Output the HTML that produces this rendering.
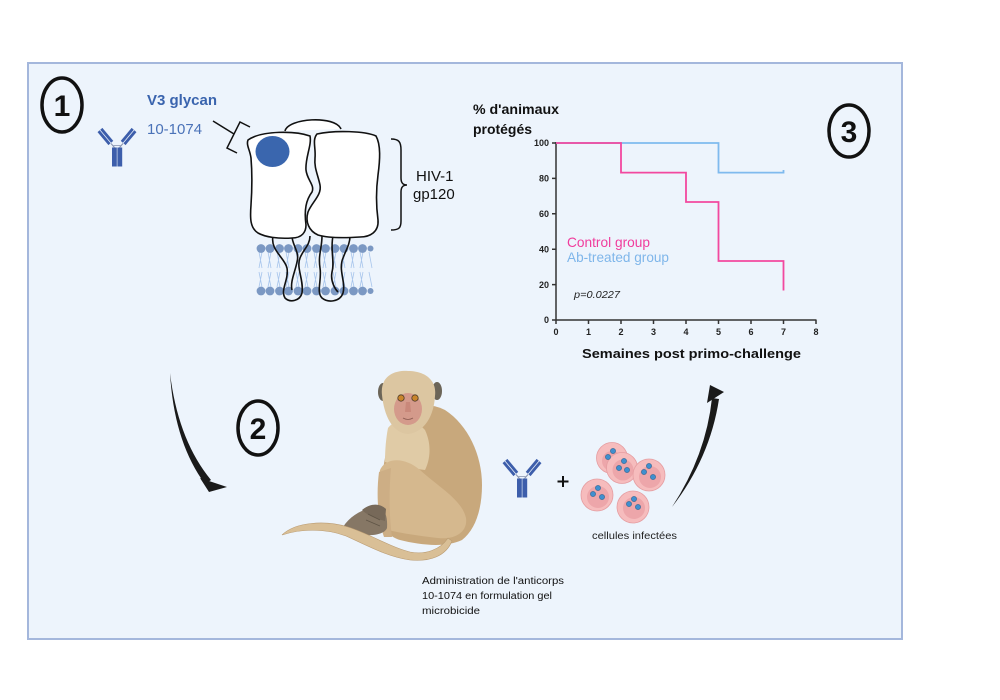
<!DOCTYPE html>
<html><head><meta charset="utf-8"><style>
html,body{margin:0;padding:0;background:#fff;}
svg{display:block;}
text{font-family:"Liberation Sans",sans-serif;}
</style></head><body>
<svg width="1000" height="700" viewBox="0 0 1000 700" xmlns="http://www.w3.org/2000/svg">
<defs>
<g id="ab">
  <line x1="4.3" y1="1.8" x2="15.2" y2="14.8" stroke="#3d5eab" stroke-width="2.8"/>
  <line x1="1.6" y1="4.2" x2="12.5" y2="17.2" stroke="#3d5eab" stroke-width="2.8"/>
  <line x1="35.7" y1="1.8" x2="24.8" y2="14.8" stroke="#3d5eab" stroke-width="2.8"/>
  <line x1="38.4" y1="4.2" x2="27.5" y2="17.2" stroke="#3d5eab" stroke-width="2.8"/>
  <line x1="14" y1="16.5" x2="17.5" y2="20.5" stroke="#8a95b0" stroke-width="1"/>
  <line x1="26" y1="16.5" x2="22.5" y2="20.5" stroke="#8a95b0" stroke-width="1"/>
  <line x1="16.5" y1="18.5" x2="23.5" y2="18.5" stroke="#8a95b0" stroke-width="0.8"/>
  <rect x="15" y="20.5" width="4.8" height="19" fill="#3d5eab"/>
  <rect x="20.4" y="20.5" width="4.8" height="19" fill="#3d5eab"/>
</g>
<g id="vir" fill="#3f8fcf" stroke="#35648f" stroke-width="0.6">
  <circle r="2.6"/>
</g>
</defs>

<!-- frame -->
<rect x="28" y="63" width="874" height="576" fill="#edf4fc" stroke="#a4b7dc" stroke-width="2"/>

<!-- numbers -->
<ellipse cx="62" cy="105" rx="20" ry="27" fill="none" stroke="#111" stroke-width="3.5"/>
<text x="62" y="116" font-size="30" font-weight="bold" text-anchor="middle" fill="#111">1</text>
<ellipse cx="258" cy="428" rx="20" ry="27" fill="none" stroke="#111" stroke-width="3.5"/>
<text x="258" y="439" font-size="30" font-weight="bold" text-anchor="middle" fill="#111">2</text>
<ellipse cx="849" cy="131" rx="20" ry="26" fill="none" stroke="#111" stroke-width="3.5"/>
<text x="849" y="142" font-size="30" font-weight="bold" text-anchor="middle" fill="#111">3</text>

<!-- panel 1 -->
<use href="#ab" x="97" y="127"/>
<text x="147" y="105" font-size="15" font-weight="bold" fill="#3a64ae">V3 glycan</text>
<text x="147" y="134" font-size="15" fill="#4a72b8">10-1074</text>

<!-- bracket line -->
<g stroke="#111" stroke-width="1.5" fill="none">
  <line x1="213" y1="121" x2="234" y2="134"/>
  <polyline points="250,127 240,122 227,148 237,153"/>
</g>

<!-- membrane -->
<g>
  <g stroke="#a9c6ec" stroke-width="0.8">
    <path d="M259,252 L262,268 M262,252 L259,268 M268,252 L271,268 M271,252 L268,268 M277,252 L280,268 M280,252 L277,268 M286,252 L289,268 M289,252 L286,268 M296,252 L299,268 M299,252 L296,268 M305,252 L308,268 M308,252 L305,268 M314,252 L317,268 M317,252 L314,268 M323,252 L326,268 M326,252 L323,268 M333,252 L336,268 M336,252 L333,268 M342,252 L345,268 M345,252 L342,268 M351,252 L354,268 M354,252 L351,268 M360,252 L363,268 M363,252 L360,268 M369,252 L372,268"/>
    <path d="M259,272 L262,287 M262,272 L259,287 M268,272 L271,287 M271,272 L268,287 M277,272 L280,287 M280,272 L277,287 M286,272 L289,287 M289,272 L286,287 M296,272 L299,287 M299,272 L296,287 M305,272 L308,287 M308,272 L305,287 M314,272 L317,287 M317,272 L314,287 M323,272 L326,287 M326,272 L323,287 M333,272 L336,287 M336,272 L333,287 M342,272 L345,287 M345,272 L342,287 M351,272 L354,287 M354,272 L351,287 M360,272 L363,287 M363,272 L360,287 M369,272 L372,287"/>
  </g>
  <g fill="#7b98c3">
    <circle cx="261" cy="248.5" r="4.4"/><circle cx="270" cy="248.5" r="4.4"/><circle cx="279.5" cy="248.5" r="4.4"/><circle cx="288.5" cy="248.5" r="4.4"/><circle cx="298" cy="248.5" r="4.4"/><circle cx="307" cy="248.5" r="4.4"/><circle cx="316.5" cy="248.5" r="4.4"/><circle cx="325.5" cy="248.5" r="4.4"/><circle cx="335" cy="248.5" r="4.4"/><circle cx="344" cy="248.5" r="4.4"/><circle cx="353.5" cy="248.5" r="4.4"/><circle cx="362.5" cy="248.5" r="4.4"/><circle cx="370.5" cy="248.5" r="3"/>
    <circle cx="261" cy="291" r="4.4"/><circle cx="270" cy="291" r="4.4"/><circle cx="279.5" cy="291" r="4.4"/><circle cx="288.5" cy="291" r="4.4"/><circle cx="298" cy="291" r="4.4"/><circle cx="307" cy="291" r="4.4"/><circle cx="316.5" cy="291" r="4.4"/><circle cx="325.5" cy="291" r="4.4"/><circle cx="335" cy="291" r="4.4"/><circle cx="344" cy="291" r="4.4"/><circle cx="353.5" cy="291" r="4.4"/><circle cx="362.5" cy="291" r="4.4"/><circle cx="370.5" cy="291" r="3"/>
  </g>
</g>

<!-- stalks -->
<g stroke="#111" stroke-width="1.6" fill="none">
  <path d="M273,236 C270,250 285,258 287,268 C289,280 280,290 285,298 C290,303 300,301 302,293 C304,280 296,268 300,258 C303,250 310,245 310,236"/>
  <path d="M292,236 C292,245 300,252 297,262 C295,272 290,282 292,290"/>
  <path d="M322,236 C322,248 318,255 320,268 C322,280 316,292 322,298 C328,303 340,302 343,293 C346,282 338,270 343,258 C346,250 350,244 350,236"/>
  <path d="M333,236 C330,250 335,262 332,272 C330,282 336,290 338,292"/>
</g>

<!-- gp120 -->
<path d="M285,131 C288,118 335,115 341,129" fill="#fff" stroke="#111" stroke-width="1.6"/>
<path d="M248,140 C262,130 296,131 310,136 C312,145 305,158 306,170 C307,180 315,185 312,192 C306,200 304,210 306,225 C306,232 302,238 292,238 C278,239 265,237 258,233 C250,228 250,218 251,205 C252,190 252,170 251,158 C250,150 246,145 248,140 Z" fill="#fff" stroke="#111" stroke-width="1.6"/>
<path d="M317,134 C335,130 365,131 376,136 C381,145 380,160 378,175 C376,190 376,205 378,220 C379,232 370,237 360,237 C345,238 328,238 318,235 C309,231 305,222 308,212 C312,202 322,195 320,185 C318,175 314,168 315,158 C316,148 312,140 317,134 Z" fill="#fff" stroke="#111" stroke-width="1.6"/>
<ellipse cx="272.5" cy="151.5" rx="17" ry="15.5" fill="#3a66ae"/>

<!-- curly brace -->
<path d="M391,139 C399,139 401,142 401,150 L401,178 C401,183 403,185 407,185 C403,185 401,187 401,192 L401,221 C401,228 399,230 391,230" fill="none" stroke="#111" stroke-width="1.5"/>
<text x="416" y="181" font-size="15" fill="#111">HIV-1</text>
<text x="413" y="199" font-size="15" fill="#111">gp120</text>

<!-- chart -->
<text x="473" y="114" font-size="14" font-weight="bold" fill="#111" textLength="86" lengthAdjust="spacingAndGlyphs">% d'animaux</text>
<text x="473" y="134" font-size="14" font-weight="bold" fill="#111" textLength="59" lengthAdjust="spacingAndGlyphs">protégés</text>
<g stroke="#333" stroke-width="1.5" fill="none">
  <line x1="556" y1="142" x2="556" y2="320.5"/>
  <line x1="555.5" y1="320" x2="816.5" y2="320"/>
  <path d="M552,143 H556 M552,178.4 H556 M552,213.8 H556 M552,249.2 H556 M552,284.6 H556 M552,320 H556"/>
  <path d="M556,320 V324 M588.5,320 V324 M621,320 V324 M653.5,320 V324 M686,320 V324 M718.5,320 V324 M751,320 V324 M783.5,320 V324 M816,320 V324"/>
</g>
<g font-size="9" font-weight="bold" fill="#222" text-anchor="end">
  <text x="549" y="146.2">100</text>
  <text x="549" y="181.6">80</text>
  <text x="549" y="217">60</text>
  <text x="549" y="252.4">40</text>
  <text x="549" y="287.8">20</text>
  <text x="549" y="323.2">0</text>
</g>
<g font-size="9" font-weight="bold" fill="#222" text-anchor="middle">
  <text x="556" y="335">0</text><text x="588.5" y="335">1</text><text x="621" y="335">2</text><text x="653.5" y="335">3</text><text x="686" y="335">4</text><text x="718.5" y="335">5</text><text x="751" y="335">6</text><text x="783.5" y="335">7</text><text x="816" y="335">8</text>
</g>
<polyline points="556,143 718.5,143 718.5,172.6 783.5,172.6 783.5,170" fill="none" stroke="#7fbaee" stroke-width="1.8"/>
<polyline points="556,143 621,143 621,172.6 686,172.6 686,202 718.5,202 718.5,261 783.5,261 783.5,290.5" fill="none" stroke="#f2489f" stroke-width="1.8"/>
<text x="567" y="247" font-size="14" fill="#f03c9c" textLength="83" lengthAdjust="spacingAndGlyphs">Control group</text>
<text x="567" y="262" font-size="14" fill="#7fb6ea" textLength="102" lengthAdjust="spacingAndGlyphs">Ab-treated group</text>
<text x="574" y="298" font-size="10" font-style="italic" fill="#222" textLength="46" lengthAdjust="spacingAndGlyphs">p=0.0227</text>
<text x="582" y="358" font-size="13" font-weight="bold" fill="#111" textLength="219" lengthAdjust="spacingAndGlyphs">Semaines post primo-challenge</text>

<!-- arrows -->
<path d="M170,373 Q178,440 211,480 L205,484 Q174,442 170,373 Z" fill="#1a1a1a"/>
<path d="M200,478 L227,487 L209,492 Z" fill="#1a1a1a"/>
<path d="M672,507 Q706,455 712,398 L719,399 Q710,458 672,507 Z" fill="#1a1a1a"/>
<path d="M710,385 L724,392 L707,403 Z" fill="#1a1a1a"/>

<!-- monkey -->
<g>
  <!-- back body -->
  <path d="M392,425 C400,405 425,400 445,410 C468,425 482,455 482,485 C482,510 475,530 462,540 C445,548 420,545 400,540 C388,537 380,525 380,505 C380,480 386,450 392,425 Z" fill="#c8a87c"/>
  <!-- chest -->
  <path d="M388,428 C395,418 415,418 425,430 C432,445 430,460 425,470 C410,468 395,465 385,462 C385,450 386,438 388,428 Z" fill="#e0cba6"/>
  <!-- leg -->
  <path d="M380,470 C386,457 405,457 420,470 C440,488 462,500 466,518 C468,532 455,540 438,538 C420,536 400,533 388,530 C380,520 377,490 380,470 Z" fill="#d5b88e"/>
  <path d="M379,472 C376,495 378,520 384,537 L392,537 C389,515 389,490 391,468 Z" fill="#cdae85"/>
  <!-- hands/feet -->
  <path d="M343,527 C350,516 362,509 375,507 C383,507 388,513 387,528 C384,536 365,537 345,533 Z" fill="#867765"/>
  <path d="M362,510 C370,503 380,503 386,509 L385,521 C377,519 368,516 362,510 Z" fill="#776959"/>
  <path d="M368,514 L380,520 M366,520 L380,526" stroke="#5f5446" stroke-width="0.7"/>
  <!-- tail -->
  <path d="M282,535 C295,522 325,520 348,527 C370,534 390,547 410,552 C425,555 440,550 448,538 L452,541 C446,556 430,562 410,560 C388,557 368,546 346,536 C325,528 300,529 282,535 Z" fill="#d9bf96" stroke="#b99a70" stroke-width="0.6"/>
  <!-- head -->
  <ellipse cx="383" cy="392" rx="5" ry="9" fill="#6c6558"/>
  <ellipse cx="437" cy="391" rx="5" ry="9" fill="#6c6558"/>
  <path d="M382,395 C380,378 392,370 408,371 C425,371 437,380 435,396 C434,415 425,432 408,434 C392,433 384,415 382,395 Z" fill="#dcc6a1"/>
  <ellipse cx="408" cy="409" rx="14" ry="16" fill="#d49a8b"/>
  <circle cx="401" cy="398" r="3.2" fill="#c9852c" stroke="#4a3a2a" stroke-width="0.8"/>
  <circle cx="415" cy="398" r="3.2" fill="#c9852c" stroke="#4a3a2a" stroke-width="0.8"/>
  <path d="M406,402 L405,412 L411,412 L410,402" fill="#c9887a"/>
  <path d="M403,418 Q408,421 413,418" stroke="#8a5a50" stroke-width="0.8" fill="none"/>
</g>

<!-- panel 2 antibody + cells -->
<use href="#ab" x="502" y="458"/>
<path d="M563,476 V487 M557.5,481.5 H568.5" stroke="#111" stroke-width="2"/>

<g stroke="#e59da1" stroke-width="0.8">
  <circle cx="612" cy="458" r="15.5" fill="#f6bcbd"/>
  <circle cx="612" cy="461" r="10" fill="#eda6aa" stroke="none"/>
  <circle cx="622" cy="468" r="15.5" fill="#f6bcbd"/>
  <circle cx="623" cy="470" r="10.5" fill="#eda6aa" stroke="none"/>
  <circle cx="649" cy="475" r="16" fill="#f6bcbd"/>
  <circle cx="650" cy="477" r="11" fill="#eda6aa" stroke="none"/>
  <circle cx="597" cy="495" r="16" fill="#f6bcbd"/>
  <circle cx="598" cy="497" r="11" fill="#eda6aa" stroke="none"/>
  <circle cx="633" cy="507" r="16" fill="#f6bcbd"/>
  <circle cx="634" cy="508" r="11" fill="#eda6aa" stroke="none"/>
</g>
<g>
  <use href="#vir" x="613" y="451"/><use href="#vir" x="608" y="457"/>
  <use href="#vir" x="624" y="461"/><use href="#vir" x="619" y="468"/><use href="#vir" x="627" y="470"/>
  <use href="#vir" x="649" y="466"/><use href="#vir" x="644" y="472"/><use href="#vir" x="653" y="477"/>
  <use href="#vir" x="598" y="488"/><use href="#vir" x="593" y="494"/><use href="#vir" x="602" y="497"/>
  <use href="#vir" x="634" y="499"/><use href="#vir" x="629" y="504"/><use href="#vir" x="638" y="507"/>
</g>
<text x="592" y="539" font-size="10" fill="#222" textLength="85" lengthAdjust="spacingAndGlyphs">cellules infectées</text>

<g font-size="10" fill="#111">
  <text x="422" y="584" textLength="142" lengthAdjust="spacingAndGlyphs">Administration de l'anticorps</text>
  <text x="422" y="599" textLength="130" lengthAdjust="spacingAndGlyphs">10-1074 en formulation gel</text>
  <text x="422" y="614" textLength="58" lengthAdjust="spacingAndGlyphs">microbicide</text>
</g>
</svg>
</body></html>
